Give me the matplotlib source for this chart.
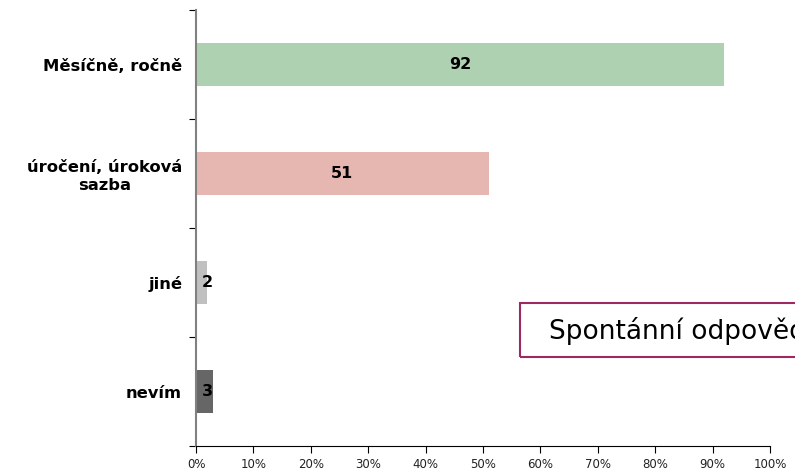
import numpy as np
import matplotlib
matplotlib.use('Agg')
import matplotlib.pyplot as plt
from matplotlib.patches import Rectangle

# data
categories = ['Měsíčně, ročně', 'úročení, úroková\nsazba', 'jiné', 'nevím']
values = [92, 51, 2, 3]
colors = ['#aed2b1', '#e6b6b0', '#c0c0c0', '#666666']
xticks = np.arange(0, 101, 10)
xlabels = ['%d%%' % t for t in xticks]

W, H = 795, 474
fig = plt.figure(figsize=(W/100, H/100), dpi=100)
ax = fig.add_axes([196/W, 1-446/H, (770-196)/W, (446-10)/H])

y = np.arange(len(categories))
ax.barh(y, values, height=0.39, color=colors, zorder=2)
ax.set_ylim(len(categories)-0.5, -0.5)
ax.set_xlim(0, 100)

# data labels
for yi, v in zip(y, values):
	if v < 5:
		ax.text(1.0, yi, str(v), ha='left', va='center', fontsize=11.5, fontweight='bold')
	else:
		ax.text(v/2, yi, str(v), ha='center', va='center', fontsize=11.5, fontweight='bold')

# axes styling
ax.set_xticks(xticks)
ax.set_xticklabels(xlabels, fontsize=8.5, color='#222222')
ax.set_yticks(np.arange(-0.5, len(categories)))
ax.set_yticklabels([])
ax.set_yticks(y, minor=True)
ax.set_yticklabels(categories, minor=True, fontsize=11.8, fontweight='bold', ha='right',
	linespacing=1.25)
ax.tick_params(axis='y', which='minor', length=0, pad=10)
ax.tick_params(axis='y', which='major', length=5, direction='out', color='black')
ax.tick_params(axis='x', length=5, direction='out', color='black', pad=4)
for lbl in ax.get_yticklabels(minor=True):
	lbl.set_multialignment('center')
ax.spines['top'].set_visible(False)
ax.spines['right'].set_visible(False)
ax.spines['left'].set_color('#808080')
ax.spines['left'].set_linewidth(1.5)
ax.spines['bottom'].set_color('black')

# annotation box (cut off by the right edge, as in the original)
fig.patches.append(Rectangle((520/W, 1-357/H), 300/W, 54/H, transform=fig.transFigure,
	fill=False, edgecolor='#a02860', linewidth=1.5, figure=fig))
fig.text(549/W, 1-331/H, 'Spontánní odpověď', va='center', ha='left', fontsize=19)

plt.savefig('out.png', dpi=100)
